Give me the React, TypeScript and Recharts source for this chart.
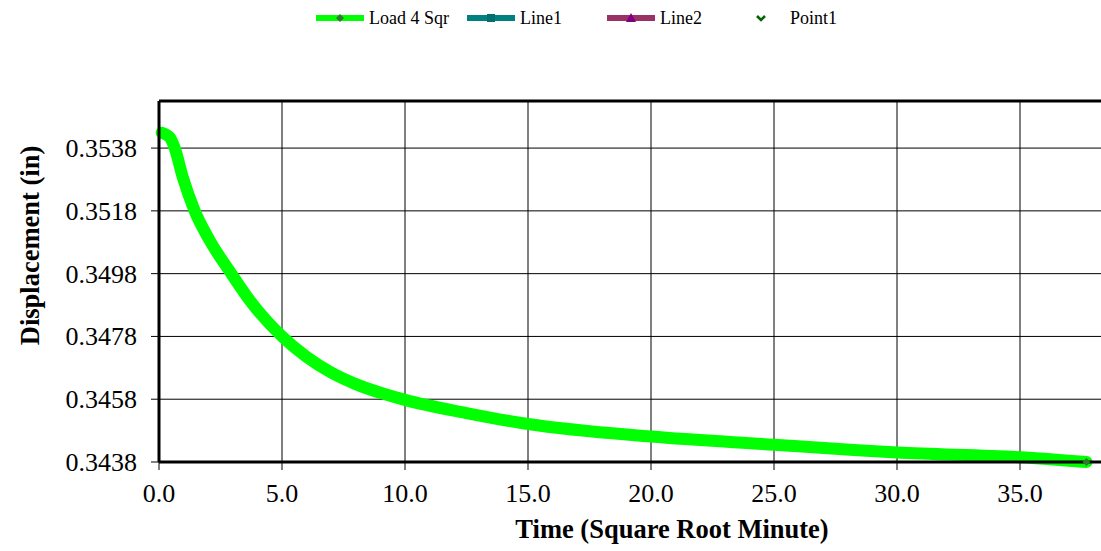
import React from 'react';
import { LineChart, Line, XAxis, YAxis, CartesianGrid, Legend, ReferenceLine, Label } from 'recharts';

const FONT = 'Liberation Serif';

// time in sqrt(minute) and displacement (in)
const sqrtTime = [0.11, 0.44, 0.64, 0.97, 1.45, 2.06, 2.94, 3.69, 5, 6, 7, 8, 10, 12.5, 15, 20, 25, 28.1, 30, 35, 37.7];
const displacement = [0.35429, 0.35414, 0.3538, 0.35286, 0.3518, 0.35086, 0.3498, 0.34895, 0.3478, 0.34715, 0.34665, 0.34628, 0.34578, 0.34536, 0.34501, 0.34461, 0.34435, 0.34419, 0.3441, 0.34395, 0.3438];

const xTicks = [0, 5, 10, 15, 20, 25, 30, 35];
const yTicks = [0.3438, 0.3458, 0.3478, 0.3498, 0.3518, 0.3538];
const yMin = 0.3438;
const yMax = 0.3553;

const data = sqrtTime.map((t, i) => ({ t, load: displacement[i] }));

const legendLeft: Record<string, number> = { load: 316, line1: 467, line2: 607, point1: 737 };

const LegendIcon = ({ kind }: { kind: string }) => {
  if (kind === 'load') {
    return (
      <svg width={48} height={12} style={{ display: 'block' }}>
        <line x1={0} y1={6} x2={48} y2={6} stroke="#00ff00" strokeWidth={6} />
        <polygon points="24,2 28,6 24,10 20,6" fill="#2f7a2f" />
      </svg>
    );
  }
  if (kind === 'line1') {
    return (
      <svg width={48} height={12} style={{ display: 'block' }}>
        <line x1={0} y1={6} x2={48} y2={6} stroke="#008080" strokeWidth={6} />
        <rect x={20} y={2} width={8} height={8} fill="#007070" />
      </svg>
    );
  }
  if (kind === 'line2') {
    return (
      <svg width={48} height={12} style={{ display: 'block' }}>
        <line x1={0} y1={6} x2={48} y2={6} stroke="#993366" strokeWidth={6} />
        <polygon points="24,1 29,10 19,10" fill="#800080" />
      </svg>
    );
  }
  return (
    <svg width={48} height={12} style={{ display: 'block' }}>
      <polyline points="20,4 24,8 28,4" fill="none" stroke="#006400" strokeWidth={2.5} />
    </svg>
  );
};

const renderLegend = (props: any) => {
  const payload = props.payload || [];
  return (
    <div style={{ position: 'relative', height: 36, fontFamily: FONT, fontSize: 18, color: '#000' }}>
      {payload.map((p: any) => (
        <div
          key={p.dataKey}
          style={{ position: 'absolute', left: legendLeft[p.dataKey], top: 0, height: 36, display: 'flex', alignItems: 'center', whiteSpace: 'nowrap' }}
        >
          <LegendIcon kind={p.dataKey} />
          <span style={{ marginLeft: 5, fontFamily: FONT }}>{p.value}</span>
        </div>
      ))}
    </div>
  );
};

const XTick = (props: any) => {
  const { x, y, payload } = props;
  return (
    <text x={x} y={y} dy={18.5} textAnchor="middle" fontFamily={FONT} fontSize={26} fill="#000">
      {Number(payload.value).toFixed(1)}
    </text>
  );
};

const YTick = (props: any) => {
  const { x, y, payload } = props;
  return (
    <text x={x} y={y} dy={9} textAnchor="end" fontFamily={FONT} fontSize={26} fill="#000">
      {Number(payload.value).toFixed(4)}
    </text>
  );
};

const EndDot = (props: any) => {
  const { cx, cy, index } = props;
  if (index !== data.length - 1) return null;
  return <polygon key="end" points={`${cx},${cy - 4} ${cx + 4},${cy} ${cx},${cy + 4} ${cx - 4},${cy}`} fill="#2f7a2f" />;
};

export default function App() {
  return (
    <div style={{ position: 'absolute', left: 0, top: 0, width: 1101, height: 551, overflow: 'hidden', background: '#fff' }}>
      <LineChart width={1150} height={551} data={data} margin={{ top: 65, right: 7, bottom: 0, left: 0 }}>
        <CartesianGrid stroke="#000" strokeWidth={1} />
        <XAxis
          type="number"
          dataKey="t"
          domain={[0, 40]}
          ticks={xTicks}
          interval={0}
          height={89}
          tick={<XTick />}
          tickSize={8}
          tickMargin={13}
          axisLine={{ stroke: '#000', strokeWidth: 3 }}
          tickLine={{ stroke: '#000' }}
        >
          <Label
            content={(p: any) => {
              const vb = p.viewBox;
              return (
                <text
                  x={vb.x + vb.width / 2 + 21}
                  y={vb.y + 70}
                  textAnchor="middle"
                  dominantBaseline="middle"
                  fontFamily={FONT}
                  fontWeight="bold"
                  fontSize={26.5}
                  fill="#000"
                >
                  Time (Square Root Minute)
                </text>
              );
            }}
          />
        </XAxis>
        <YAxis
          type="number"
          domain={[yMin, yMax]}
          ticks={yTicks}
          interval={0}
          width={159}
          tick={<YTick />}
          tickSize={8}
          tickMargin={14}
          axisLine={{ stroke: '#000', strokeWidth: 3 }}
          tickLine={{ stroke: '#000' }}
        >
          <Label
            content={(p: any) => {
              const vb = p.viewBox;
              const cx = 33;
              const cy = vb.y + vb.height / 2 - 36;
              return (
                <text
                  x={cx}
                  y={cy}
                  transform={`rotate(-90 ${cx} ${cy})`}
                  textAnchor="middle"
                  dominantBaseline="middle"
                  fontFamily={FONT}
                  fontWeight="bold"
                  fontSize={26.5}
                  fill="#000"
                >
                  Displacement (in)
                </text>
              );
            }}
          />
        </YAxis>
        <ReferenceLine y={yMax} stroke="#000" strokeWidth={3} />
        <Legend verticalAlign="top" content={renderLegend} wrapperStyle={{ top: 0, left: 0, height: 36 }} />
        <Line
          type="monotone"
          dataKey="load"
          name="Load 4 Sqr"
          stroke="#00ff00"
          strokeWidth={12}
          strokeLinecap="round"
          dot={EndDot}
          activeDot={false}
          isAnimationActive={false}
        />
        <Line dataKey="line1" name="Line1" stroke="#008080" strokeWidth={4} dot={false} isAnimationActive={false} />
        <Line dataKey="line2" name="Line2" stroke="#993366" strokeWidth={4} dot={false} isAnimationActive={false} />
        <Line dataKey="point1" name="Point1" stroke="none" dot={false} isAnimationActive={false} />
      </LineChart>
    </div>
  );
}
